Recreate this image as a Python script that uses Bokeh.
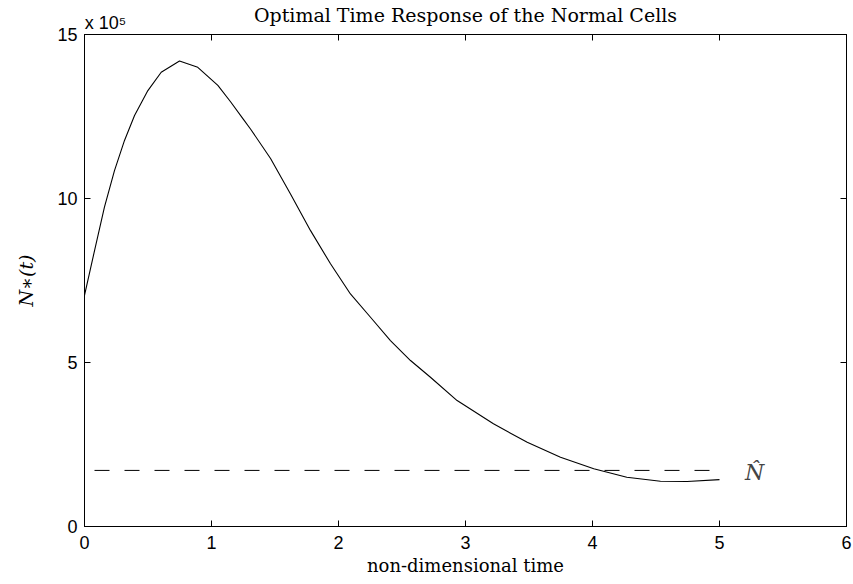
from bokeh.plotting import figure
from bokeh.models import LinearAxis, FixedTicker, Range1d, Label
from bokeh.embed import file_html
from bokeh.resources import INLINE

# Data (N in units of 1e5)
t_vals = [0, 0.079, 0.157, 0.236, 0.315, 0.394, 0.499, 0.604, 0.748, 0.892, 1.05, 1.15,
          1.25, 1.307, 1.465, 1.622, 1.78, 1.937, 2.094, 2.252, 2.409, 2.567, 2.724, 2.934,
          3.22, 3.486, 3.748, 4.01, 4.27, 4.535, 4.745, 5.0]
n_vals = [7.05, 8.41, 9.74, 10.85, 11.77, 12.53, 13.29, 13.85, 14.19, 14.0, 13.45, 12.95,
          12.42, 12.12, 11.22, 10.14, 9.02, 8.01, 7.09, 6.38, 5.67, 5.06, 4.55, 3.84,
          3.13, 2.57, 2.11, 1.76, 1.50, 1.38, 1.37, 1.43]
n_scaled = [v * 1e5 for v in n_vals]
n_hat = 1.71e5
hat_t = [0, 5.0]
x_ticks = [0, 1, 2, 3, 4, 5, 6]
y_ticks = [0, 5e5, 10e5, 15e5]
y_tick_labels = ["0", "5", "10", "15"]
title_text = "Optimal Time Response of the Normal Cells"
scale_text = "x 10\u2075"

SERIF = "DejaVu Serif"
SANS = "Liberation Sans"
SCALE_LABEL_X = 0.165  # centre of the scale-factor label (layout, not data)

p = figure(width=853, height=584, output_backend="svg", toolbar_location=None,
           x_range=Range1d(0, 6), y_range=Range1d(0, 15e5))
p.title_location = None
p.min_border_left = 84
p.min_border_right = 7
p.min_border_top = 34
p.min_border_bottom = 58
p.xgrid.visible = False
p.ygrid.visible = False
p.outline_line_color = "black"
p.outline_line_width = 1

for ax in (p.xaxis[0], p.yaxis[0]):
    ax.major_tick_in = 6
    ax.major_tick_out = 0
    ax.minor_tick_line_color = None
    ax.major_label_text_font = SANS
    ax.major_label_text_font_size = "18px"
    ax.major_label_text_color = "black"
    ax.major_label_standoff = 7
    ax.axis_label_text_font = SERIF
    ax.axis_label_text_font_style = "normal"
    ax.axis_label_text_font_size = "18px"
    ax.axis_label_text_color = "black"

p.xaxis[0].ticker = FixedTicker(ticks=x_ticks)
p.yaxis[0].ticker = FixedTicker(ticks=y_ticks)
p.yaxis[0].major_label_overrides = {float(k): v for k, v in zip(y_ticks, y_tick_labels)}
p.yaxis[0].major_label_overrides.update({int(k): v for k, v in zip(y_ticks, y_tick_labels)})
p.xaxis[0].major_label_standoff = 9
p.xaxis[0].axis_label = "non-dimensional time"
p.xaxis[0].axis_label_standoff = 3
p.yaxis[0].axis_label = "N\u2217(t)"
p.yaxis[0].axis_label_text_font_style = "italic"
p.yaxis[0].axis_label_text_font_size = "19px"
p.yaxis[0].axis_label_standoff = 17

right = LinearAxis(ticker=FixedTicker(ticks=y_ticks), major_tick_in=6, major_tick_out=0,
                   minor_tick_line_color=None, major_label_text_color=None,
                   major_label_text_font_size="1px", major_label_standoff=0)
top = LinearAxis(ticker=FixedTicker(ticks=x_ticks), major_tick_in=6, major_tick_out=0,
                 minor_tick_line_color=None, major_label_text_color=None,
                 major_label_text_font_size="1px", major_label_standoff=0)
p.add_layout(right, "right")
p.add_layout(top, "above")

# Top annotation axis: scale factor label near x=0 and the chart title as its axis label
title_axis = LinearAxis(ticker=FixedTicker(ticks=[SCALE_LABEL_X]))
title_axis.axis_line_color = None
title_axis.major_tick_line_color = None
title_axis.minor_tick_line_color = None
title_axis.major_tick_out = 0
title_axis.major_tick_in = 0
title_axis.major_label_overrides = {SCALE_LABEL_X: scale_text}
title_axis.major_label_text_font = SANS
title_axis.major_label_text_font_size = "18px"
title_axis.major_label_text_color = "black"
title_axis.major_label_standoff = 2
title_axis.axis_label = title_text
title_axis.axis_label_text_font = SERIF
title_axis.axis_label_text_font_style = "normal"
title_axis.axis_label_text_font_size = "19px"
title_axis.axis_label_text_color = "black"
title_axis.axis_label_standoff = -16
p.add_layout(title_axis, "above")

p.line(t_vals, n_scaled, line_color="black", line_width=1.1)
p.line(hat_t, [n_hat, n_hat], line_color="black", line_width=1, line_dash="15 15",
       line_dash_offset=20)

p.add_layout(Label(x=5.2, y=n_hat, text="N\u0302", text_font=SERIF, text_font_style="italic",
                   text_font_size="22px", text_baseline="middle", y_offset=-2))

open("out.html", "w").write(file_html(p, INLINE))
